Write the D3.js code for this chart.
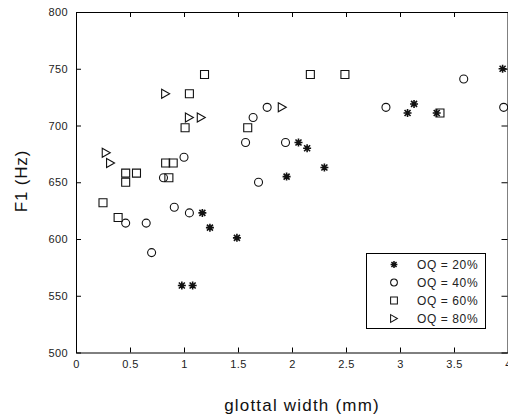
<!DOCTYPE html>
<html>
<head>
<meta charset="utf-8">
<script src="https://cdnjs.cloudflare.com/ajax/libs/d3/7.8.5/d3.min.js"></script>
<style>
body { margin: 0; background: #fff; }
text { font-family: 'Liberation Sans', Arial, sans-serif; }
</style>
</head>
<body>
<svg id="chart" width="508" height="417"></svg>
<script>
// OQ = 20% (asterisks)
var oq20 = [[0.98,559],[1.08,559],[1.17,623],[1.24,610],[1.49,601],[1.95,655],[2.06,685],
	[2.14,680],[2.30,663],[3.07,711],[3.13,719],[3.34,711],[3.95,750]];
// OQ = 40% (circles)
var oq40 = [[0.46,614],[0.65,614],[0.70,588],[0.81,654],[0.91,628],[1.00,672],[1.05,623],
	[1.57,685],[1.64,707],[1.69,650],[1.77,716],[1.94,685],[2.87,716],[3.59,741],[3.96,716]];
// OQ = 60% (squares)
var oq60 = [[0.25,632],[0.39,619],[0.46,650],[0.46,658],[0.56,658],[0.83,667],[0.86,654],
	[0.90,667],[1.01,698],[1.05,728],[1.19,745],[1.59,698],[2.17,745],[2.49,745],[3.37,711]];
// OQ = 80% (triangles)
var oq80 = [[0.28,676],[0.32,667],[0.83,728],[1.05,707],[1.16,707],[1.91,716]];

var xTicks = [0,0.5,1,1.5,2,2.5,3,3.5,4];
var yTicks = [500,550,600,650,700,750,800];
var legendLabels = ['OQ = 20%','OQ = 40%','OQ = 60%','OQ = 80%'];

var plotLeft = 76, plotRight = 508, plotTop = 12, plotBottom = 352.5;

var svg = d3.select('#chart');

var xScale = d3.scaleLinear().domain([0,4]).range([plotLeft,plotRight]);
var yScale = d3.scaleLinear().domain([500,800]).range([plotBottom,plotTop]);

// marker shapes, centred on 0,0
var shapes = {
	star: 'M-4,0H4M0,-4V4M-3,-3L3,3M-3,3L3,-3',
	circle: 'M4,0A4,4 0 1,1 -4,0A4,4 0 1,1 4,0Z',
	square: 'M-4,-4H4V4H-4Z',
	tri: 'M-4,-4.5L4,0L-4,4.5Z'
};
var series = [
	{data: oq20, shape: 'star'},
	{data: oq40, shape: 'circle'},
	{data: oq60, shape: 'square'},
	{data: oq80, shape: 'tri'}
];

// axes - box with inward ticks
var axisStyle = function(g){
	g.select('.domain').attr('stroke','#000');
	g.selectAll('.tick line').attr('stroke','#000');
	g.selectAll('.tick text').attr('fill','#222').style('font-size','11px').style('letter-spacing','0.4px');
};

svg.append('g')
	.attr('transform','translate(0,'+plotBottom+')')
	.call(d3.axisBottom(xScale).tickValues(xTicks).tickFormat(d3.format('~g'))
		.tickSizeInner(-5).tickSizeOuter(0).tickPadding(8))
	.call(axisStyle);
svg.append('g')
	.attr('transform','translate(0,'+plotTop+')')
	.call(d3.axisTop(xScale).tickValues(xTicks).tickSizeInner(-5).tickSizeOuter(0).tickFormat(''))
	.call(axisStyle);
svg.append('g')
	.attr('transform','translate('+plotLeft+',0)')
	.call(d3.axisLeft(yScale).tickValues(yTicks).tickSizeInner(-5).tickSizeOuter(0).tickPadding(8))
	.call(axisStyle);
svg.append('g')
	.attr('transform','translate('+(plotRight-0.5)+',0)')
	.call(d3.axisRight(yScale).tickValues(yTicks).tickSizeInner(-6).tickSizeOuter(0).tickFormat(''))
	.call(axisStyle);

// points
series.forEach(function(s){
	svg.append('g').selectAll('path')
		.data(s.data)
		.enter().append('path')
		.attr('d', shapes[s.shape])
		.attr('transform', function(d){ return 'translate('+xScale(d[0])+','+yScale(d[1])+')'; })
		.attr('fill','none')
		.attr('stroke','#111')
		.attr('stroke-width', s.shape == 'star' ? 1.6 : 1.1);
});

// legend
var legend = svg.append('g');
legend.append('rect')
	.attr('x',366.5).attr('y',253.5).attr('width',119).attr('height',75)
	.attr('fill','#fff').attr('stroke','#000');
legendLabels.forEach(function(lab,i){
	var ly = 264.5 + i*18;
	legend.append('path')
		.attr('d', shapes[series[i].shape])
		.attr('transform','translate(394,'+ly+') scale(0.85)')
		.attr('fill','none').attr('stroke','#111')
		.attr('stroke-width', i == 0 ? 1.8 : 1.2);
	legend.append('text')
		.attr('x',417).attr('y',ly+4.5)
		.attr('fill','#222')
		.style('font-size','12px')
		.style('letter-spacing','0.6px')
		.text(lab);
});

// axis titles
svg.append('text')
	.attr('x',302).attr('y',411)
	.attr('text-anchor','middle')
	.style('font-size','17px')
	.style('letter-spacing','1.2px')
	.attr('fill','#111')
	.text('glottal width (mm)');
svg.append('text')
	.attr('transform','translate(27,181) rotate(-90)')
	.attr('text-anchor','middle')
	.style('font-size','17px')
	.style('letter-spacing','0.8px')
	.attr('fill','#111')
	.text('F1 (Hz)');
</script>
</body>
</html>
